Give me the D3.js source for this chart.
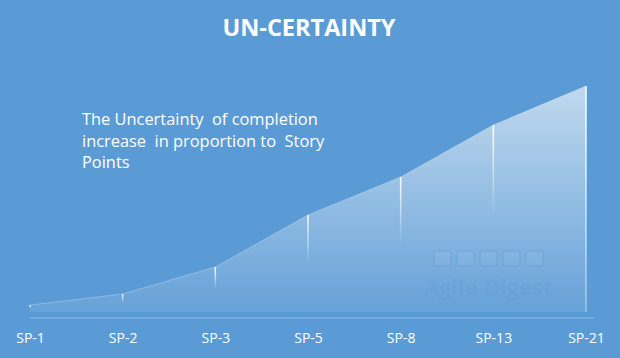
<!DOCTYPE html>
<html><head><meta charset="utf-8">
<script src="https://cdn.jsdelivr.net/npm/d3@7"></script>
<style>body{margin:0;background:#5B9BD5;}svg{display:block;}</style>
</head><body>
<svg id="c" width="620" height="358"></svg>
<script>
const categories = ["SP-1","SP-2","SP-3","SP-5","SP-8","SP-13","SP-21"];
const values = [13, 24, 51, 103, 141, 193, 232];
const titleText = "UN-CERTAINTY";
const noteLines = ["The Uncertainty  of completion", "increase  in proportion to  Story", "Points"];

const svg = d3.select("#c");
const W = 620, H = 358;
svg.append("rect").attr("width", W).attr("height", H).attr("fill", "#5B9BD5");

const x = d3.scalePoint().domain(categories).range([30, 586]);
const y = d3.scaleLinear().domain([0, 250]).range([318, 68]);

const defs = svg.append("defs");
const g1 = defs.append("linearGradient").attr("id","ag").attr("x1",0).attr("x2",0)
  .attr("gradientUnits","userSpaceOnUse").attr("y1", y(232)).attr("y2", 312);
g1.append("stop").attr("offset","0%").attr("stop-color","#fff").attr("stop-opacity",0.62);
g1.append("stop").attr("offset","100%").attr("stop-color","#fff").attr("stop-opacity",0.07);

const area = d3.area().x((d,i)=>x(categories[i])).y0(312).y1(d=>y(d));
svg.append("path").datum(values).attr("d", area).attr("fill","url(#ag)");

const line = d3.line().x((d,i)=>x(categories[i])).y(d=>y(d));
svg.append("path").datum(values).attr("d", line).attr("fill","none").attr("stroke","#fff").attr("stroke-opacity",0.25).attr("stroke-width",1);

// drop lines
values.forEach((v,i)=>{
  const id = "dl"+i;
  const last = i === values.length-1;
  const top = y(v), len = last ? (312 - top) : (312 - top) * 0.5;
  const g = defs.append("linearGradient").attr("id", id).attr("gradientUnits","userSpaceOnUse")
    .attr("x1",0).attr("x2",0).attr("y1", top).attr("y2", top+len);
  g.append("stop").attr("offset","0%").attr("stop-color","#fff").attr("stop-opacity",1);
  g.append("stop").attr("offset","100%").attr("stop-color","#fff").attr("stop-opacity", last ? 0.4 : 0);
  svg.append("rect").attr("x", x(categories[i]) - 0.75).attr("y", top).attr("width", 1.5).attr("height", len)
    .attr("fill", "url(#"+id+")");
});

// axis line
svg.append("line").attr("x1",30).attr("x2",594).attr("y1",318).attr("y2",318)
  .attr("stroke","#8DBBE6").attr("stroke-width",1);

// watermark
const wm = svg.append("g");
[0,1,2,3,4].forEach(k=>{
  wm.append("rect").attr("x", 434 + k*23).attr("y", 251).attr("width", 17).attr("height", 15).attr("rx", 2)
    .attr("fill","#fff").attr("fill-opacity",0.06).attr("stroke","#5B9BD5").attr("stroke-opacity",0.35).attr("stroke-width",1.5);
});
wm.append("text").attr("x", 488).attr("y", 295).attr("text-anchor","middle")
  .attr("font-family","Open Sans, sans-serif").attr("font-size",22).attr("font-weight","bold")
  .attr("fill","#5B9BD5").attr("fill-opacity",0.28)
  .text("Agile Digest");

// x labels
const ax = svg.append("g").attr("transform","translate(0,318)")
  .call(d3.axisBottom(x).tickSize(0).tickPadding(15));
ax.select(".domain").remove();
ax.selectAll("text").attr("fill","#fff").attr("font-family","Open Sans, sans-serif").attr("font-size",14);

// title
svg.append("text").attr("x", 309).attr("y", 36).attr("text-anchor","middle")
  .attr("font-family","Open Sans, sans-serif").attr("font-weight","bold").attr("font-size",23.5)
  .attr("fill","#fff").text(titleText);

// note
const nt = svg.append("text").attr("font-family","Open Sans, sans-serif").attr("font-size",16.4).attr("fill","#fff");
noteLines.forEach((t,i)=>{
  nt.append("tspan").attr("x",82).attr("y",125 + i*21.5).style("white-space","pre").text(t);
});
</script>
</body></html>
